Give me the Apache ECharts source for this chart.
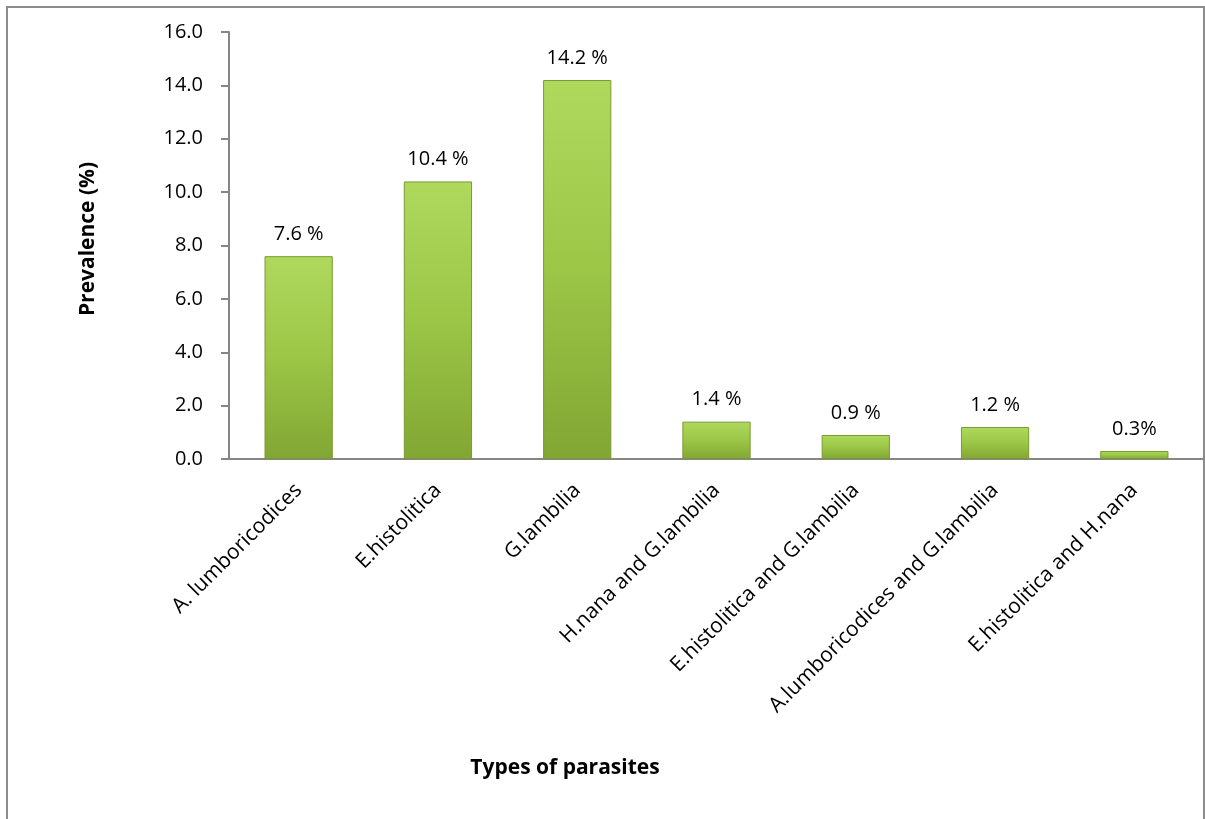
<!DOCTYPE html>
<html>
<head>
<meta charset="utf-8">
<script src="https://cdn.jsdelivr.net/npm/echarts@6/dist/echarts.min.js"></script>
<style>
  html, body { margin: 0; padding: 0; background: #fff; }
  #chart { width: 1205px; height: 819px; }
</style>
</head>
<body>
<div id="chart"></div>
<script>
const categories = [
  'A. lumboricodices',
  'E.histolitica',
  'G.lambilia',
  'H.nana and G.lambilia',
  'E.histolitica and G.lambilia',
  'A.lumboricodices and G.lambilia',
  'E.histolitica and H.nana'
]
const prevalence = [7.6, 10.4, 14.2, 1.4, 0.9, 1.2, 0.3]
const valueLabels = ['7.6 %', '10.4 %', '14.2 %', '1.4 %', '0.9 %', '1.2 %', '0.3%']

const FONT = 'Open Sans'
const chart = echarts.init(document.getElementById('chart'))

chart.setOption({
  animation: false,
  backgroundColor: '#fff',
  textStyle: { fontFamily: FONT },
  grid: {
    left: 229,
    right: 1,
    top: 32,
    bottom: 360,
    containLabel: false
  },
  xAxis: {
    type: 'category',
    data: categories,
    axisLine: { lineStyle: { color: '#868686', width: 2 } },
    axisTick: { show: false },
    axisLabel: {
      rotate: 45,
      interval: 0,
      margin: 28,
      color: '#000',
      fontSize: 21,
      fontFamily: FONT
    }
  },
  yAxis: {
    type: 'value',
    min: 0,
    max: 16,
    interval: 2,
    axisLine: { show: true, lineStyle: { color: '#868686', width: 2 } },
    axisTick: { show: true, length: 8, lineStyle: { color: '#868686', width: 2 } },
    splitLine: { show: false },
    axisLabel: {
      margin: 26,
      color: '#000',
      fontSize: 20,
      fontFamily: FONT,
      formatter: v => v.toFixed(1)
    }
  },
  series: [
    {
      type: 'bar',
      data: prevalence,
      barWidth: '49%',
      itemStyle: {
        color: {
          type: 'linear',
          x: 0, y: 0, x2: 0, y2: 1,
          colorStops: [
            { offset: 0, color: '#afd95d' },
            { offset: 0.5, color: '#9bc646' },
            { offset: 1, color: '#82a633' }
          ]
        },
        borderColor: '#7a9a30',
        borderWidth: 1
      },
      label: {
        show: true,
        position: 'top',
        distance: 12,
        color: '#000',
        fontSize: 20,
        fontFamily: FONT,
        formatter: p => valueLabels[p.dataIndex]
      }
    }
  ],
  graphic: [
    {
      type: 'rect',
      shape: { x: 7, y: 7, width: 1197, height: 900 },
      style: { fill: 'none', stroke: '#8c8c8c', lineWidth: 2 },
      silent: true
    },
    {
      type: 'text',
      x: 88,
      y: 239,
      rotation: Math.PI / 2,
      style: {
        text: 'Prevalence (%)',
        fontSize: 21,
        fontWeight: 'bold',
        fontFamily: FONT,
        fill: '#000',
        align: 'center',
        verticalAlign: 'middle'
      }
    },
    {
      type: 'text',
      x: 565,
      y: 768,
      style: {
        text: 'Types of parasites',
        fontSize: 21,
        fontWeight: 'bold',
        fontFamily: FONT,
        fill: '#000',
        align: 'center',
        verticalAlign: 'middle'
      }
    }
  ]
})
</script>
</body>
</html>
